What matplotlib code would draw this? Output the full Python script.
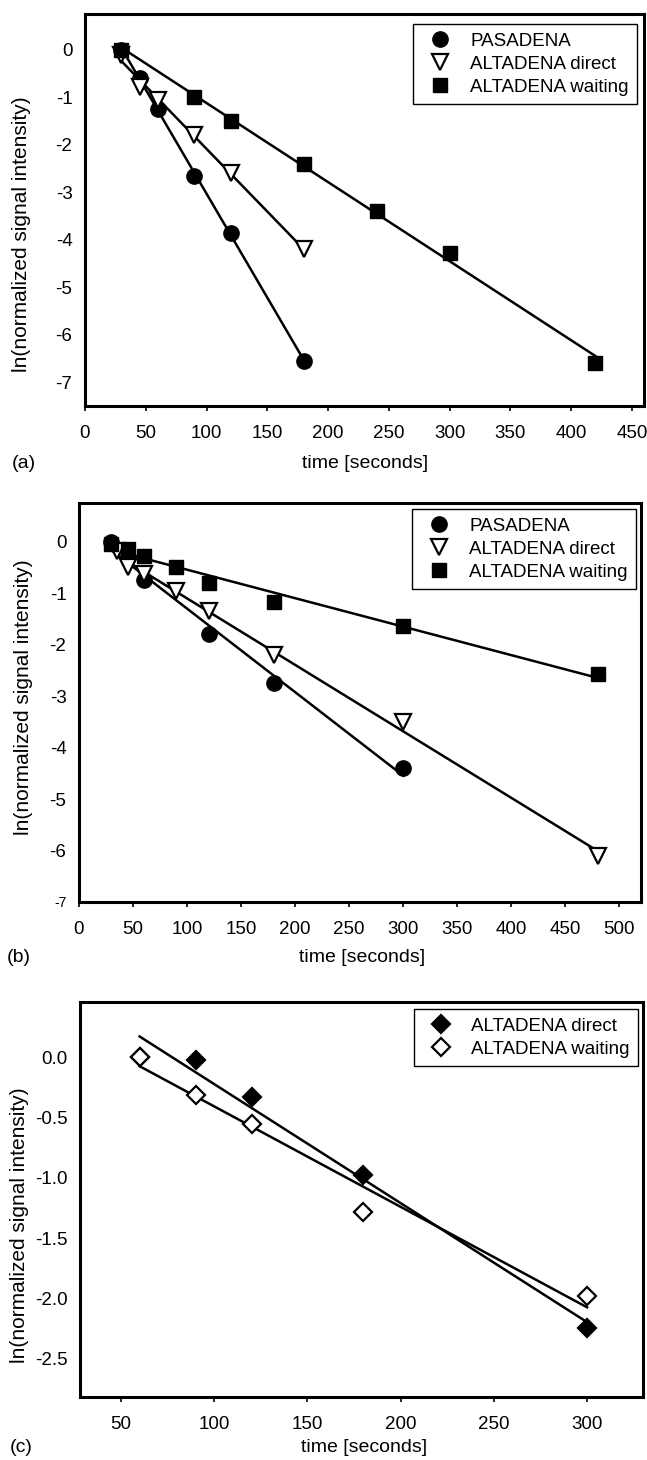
import numpy as np
import matplotlib
matplotlib.use("Agg")
import matplotlib.pyplot as plt

plt.rcParams['font.family'] = ['Liberation Sans', 'DejaVu Sans']
plt.rcParams['axes.unicode_minus'] = False

# panel (a)
t_pas_a = [30, 45, 60, 90, 120, 180]
y_pas_a = [0.0, -0.6, -1.25, -2.65, -3.85, -6.55]
t_dir_a = [30, 45, 60, 90, 120, 180]
y_dir_a = [-0.12, -0.78, -1.05, -1.8, -2.6, -4.2]
t_wait_a = [30, 90, 120, 180, 240, 300, 420]
y_wait_a = [0.0, -1.0, -1.5, -2.4, -3.4, -4.28, -6.6]

# panel (b)
t_pas_b = [30, 45, 60, 120, 180, 300]
y_pas_b = [0.0, -0.3, -0.75, -1.8, -2.75, -4.4]
t_dir_b = [35, 45, 60, 90, 120, 180, 300, 480]
y_dir_b = [-0.18, -0.5, -0.63, -0.95, -1.35, -2.2, -3.5, -6.1]
t_wait_b = [30, 45, 60, 90, 120, 180, 300, 480]
y_wait_b = [-0.05, -0.15, -0.28, -0.5, -0.8, -1.17, -1.64, -2.57]

# panel (c)
t_dir_c = [60, 90, 120, 180, 300]
y_dir_c = [0.0, -0.02, -0.33, -0.98, -2.25]
t_wait_c = [60, 90, 120, 180, 300]
y_wait_c = [0.0, -0.31, -0.55, -1.28, -1.98]

xticks_a = list(range(0, 451, 50))
xticks_b = list(range(0, 501, 50))
xticks_c = list(range(50, 301, 50))
yticks_a = [0, -1, -2, -3, -4, -5, -6, -7]
yticks_c = [0.0, -0.5, -1.0, -1.5, -2.0, -2.5]

W, H = 647, 1460
fig = plt.figure(figsize=(W / 100, H / 100), dpi=100)


def box(l, r, t, b):
    return [l / W, 1 - b / H, (r - l) / W, (b - t) / H]


styles = {
    'PASADENA': dict(marker='o', ms=11, mfc='black', mec='black'),
    'ALTADENA direct': dict(marker='v', ms=11, mfc='white', mec='black', mew=1.6),
    'ALTADENA waiting': dict(marker='s', ms=9.5, mfc='black', mec='black'),
}
styles_c = {
    'ALTADENA direct': dict(marker='D', ms=9, mfc='black', mec='black', mew=1.6),
    'ALTADENA waiting': dict(marker='D', ms=9, mfc='white', mec='black', mew=1.6),
}


def draw(ax, series, sty):
    for name, t, y in series:
        t = np.array(t, dtype=float)
        y = np.array(y, dtype=float)
        k, c = np.polyfit(t, y, 1)
        xx = np.array([t.min(), t.max()])
        ax.plot(xx, k * xx + c, color='black', lw=1.8, zorder=2)
    for name, t, y in series:
        ax.plot(t, y, linestyle='none', label=name, zorder=3, **sty[name])


def style_axes(ax, anchor):
    for s in ax.spines.values():
        s.set_linewidth(2.2)
    ax.tick_params(axis='y', length=0, pad=9, labelsize=13.5)
    ax.tick_params(axis='x', direction='out', length=3.5, width=1.2, pad=10, labelsize=13.5)
    leg = ax.legend(loc='upper right', bbox_to_anchor=anchor, borderaxespad=0,
                    fontsize=13.5, frameon=True, fancybox=False, framealpha=1,
                    edgecolor='black', borderpad=0.45, labelspacing=0.32,
                    handlelength=2.0, handletextpad=0.6, numpoints=1)
    leg.get_frame().set_linewidth(1.0)


# (a)
ax = fig.add_axes(box(85, 644, 14, 406))
draw(ax, [('PASADENA', t_pas_a, y_pas_a),
          ('ALTADENA direct', t_dir_a, y_dir_a),
          ('ALTADENA waiting', t_wait_a, y_wait_a)], styles)
ax.set_xlim(0, 460)
ax.set_ylim(-7.5, 0.75)
ax.set_xticks(xticks_a)
ax.set_yticks(yticks_a)
ax.set_yticklabels([str(v) for v in yticks_a])
style_axes(ax, (0.9875, 0.9745))

# (b)
ax = fig.add_axes(box(79, 641, 503, 902))
draw(ax, [('PASADENA', t_pas_b, y_pas_b),
          ('ALTADENA direct', t_dir_b, y_dir_b),
          ('ALTADENA waiting', t_wait_b, y_wait_b)], styles)
ax.set_xlim(0, 520)
ax.set_ylim(-7, 0.75)
ax.set_xticks(xticks_b)
ax.set_yticks(yticks_a)
ax.set_yticklabels([str(v) for v in yticks_a])
style_axes(ax, (0.991, 0.985))
ax.get_yticklabels()[-1].set_fontsize(10)

# (c)
ax = fig.add_axes(box(80, 643, 1002, 1397))
draw(ax, [('ALTADENA direct', t_dir_c, y_dir_c),
          ('ALTADENA waiting', t_wait_c, y_wait_c)], styles_c)
ax.set_xlim(28, 330)
ax.set_ylim(-2.82, 0.46)
ax.set_xticks(xticks_c)
ax.set_yticks(yticks_c)
ax.set_yticklabels(['%.1f' % v for v in yticks_c])
style_axes(ax, (0.991, 0.982))

ylab = 'ln(normalized signal intensity)'
for (yx, yy), (xx, xy), (px, py), tag in [((22, 234), (365, 463), (12, 463), '(a)'),
                                          ((24, 697), (362, 957), (7, 957), '(b)'),
                                          ((20, 1225), (364, 1448), (10, 1448), '(c)')]:
    fig.text(yx / W, 1 - yy / H, ylab, rotation=90, ha='center', va='center', fontsize=15)
    fig.text(xx / W, 1 - xy / H, 'time [seconds]', ha='center', va='center', fontsize=14)
    fig.text(px / W, 1 - py / H, tag, ha='left', va='center', fontsize=14)

fig.savefig('out.png', dpi=100)
